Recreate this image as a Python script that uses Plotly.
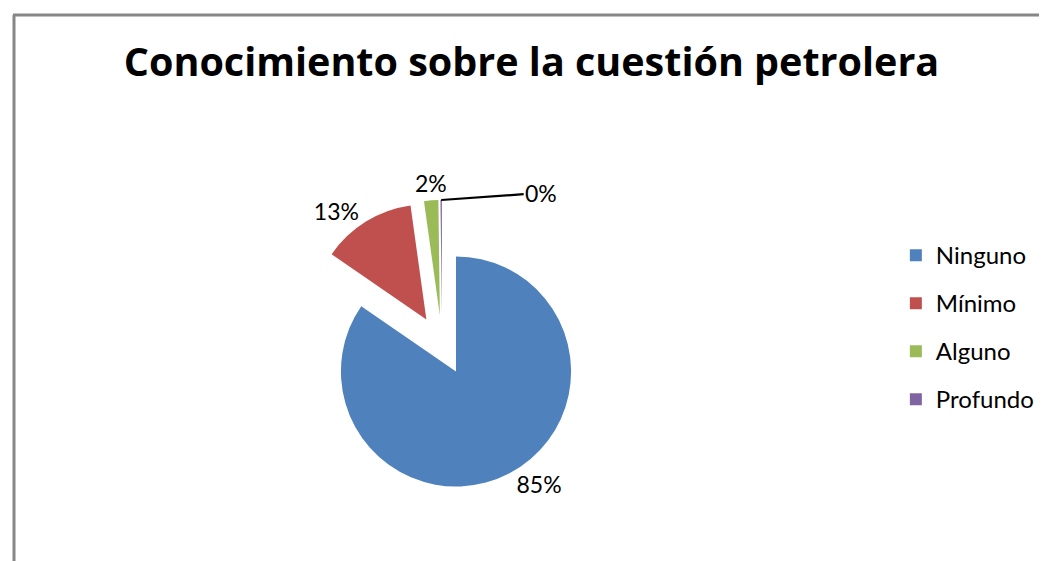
"""Pastel — Conocimiento sobre la cuestión petrolera."""
import math
import plotly.graph_objects as go

etiquetas = ["Ninguno", "Mínimo", "Alguno", "Profundo"]
valores = [84.6, 13.2, 2.0, 0.2]
colores = ["#4F81BD", "#C0504D", "#9BBB59", "#8064A2"]

W, H = 1047, 561
FUENTE = "Lato, 'Open Sans', sans-serif"
PULL = 0.26
DOM_X = [0.2761, 0.5531]
DOM_Y = [0.1409, 0.6578]

# leyenda: interlineado grande (~48px) con texto de 24px desplazado hacia arriba
nombres = [f'<span style="font-size:24px;baseline-shift:5px">{e}</span>' for e in etiquetas]

total = sum(valores)
pct = [f"{round(v / total * 100)}%" for v in valores]
# los dos sectores pequeños llevan su etiqueta aparte, como en el original
textos = pct[:2] + ["", ""]

fig = go.Figure()
fig.add_trace(go.Pie(
    labels=nombres, values=valores, sort=False, direction="clockwise",
    rotation=0, pull=PULL,
    marker=dict(colors=colores, line=dict(width=0)),
    text=textos, textinfo="text",
    textposition="outside",
    outsidetextfont=dict(family=FUENTE, size=23, color="#000000"),
    domain=dict(x=DOM_X, y=DOM_Y),
    hoverinfo="label+percent",
))


def punta(i):
    """Punto exterior medio del sector i (px), a partir de los datos."""
    cx = (DOM_X[0] + DOM_X[1]) / 2 * W
    cy = (1 - (DOM_Y[0] + DOM_Y[1]) / 2) * H
    r = min((DOM_X[1] - DOM_X[0]) * W, (DOM_Y[1] - DOM_Y[0]) * H) / (2 * (1 + PULL))
    ang = 2 * math.pi * (sum(valores[:i]) + valores[i] / 2) / total
    px = cx + (1 + PULL) * r * math.sin(ang)
    py = cy - (1 + PULL) * r * math.cos(ang)
    return px / W, 1 - py / H


x2, y2 = punta(2)
fig.add_annotation(
    x=x2, y=y2, xref="paper", yref="paper", text=pct[2], showarrow=False,
    xanchor="center", yanchor="bottom", yshift=1,
    font=dict(family=FUENTE, size=23, color="#000000"),
)
x3, y3 = punta(3)
fig.add_annotation(
    x=x3, y=y3, xref="paper", yref="paper",
    text=pct[3], showarrow=True, arrowhead=0, arrowwidth=2.2,
    arrowcolor="#000000", ax=100, ay=-7, standoff=0,
    font=dict(family=FUENTE, size=23, color="#000000"),
)

# marco gris del gráfico (superior e izquierdo)
fig.add_shape(type="line", xref="paper", yref="paper",
              x0=5 / W, x1=1.0, y0=1 - 7 / H, y1=1 - 7 / H,
              line=dict(color="#878787", width=3))
fig.add_shape(type="line", xref="paper", yref="paper",
              x0=6 / W, x1=6 / W, y0=0, y1=1 - 7 / H,
              line=dict(color="#878787", width=3))

fig.update_layout(
    width=W, height=H,
    margin=dict(l=0, r=0, t=0, b=0),
    paper_bgcolor="white", plot_bgcolor="white",
    title=dict(text="<b>Conocimiento sobre la cuestión petrolera</b>",
               x=0.5, y=1 - 54 / H, xanchor="center", yanchor="middle",
               font=dict(family="'Open Sans', sans-serif", size=39.5, color="#000000")),
    legend=dict(x=0.848, y=0.611, xanchor="left", yanchor="top",
                font=dict(family=FUENTE, size=34.6, color="#000000"),
                bgcolor="rgba(0,0,0,0)"),
    showlegend=True,
)

fig.write_html("out.html")
